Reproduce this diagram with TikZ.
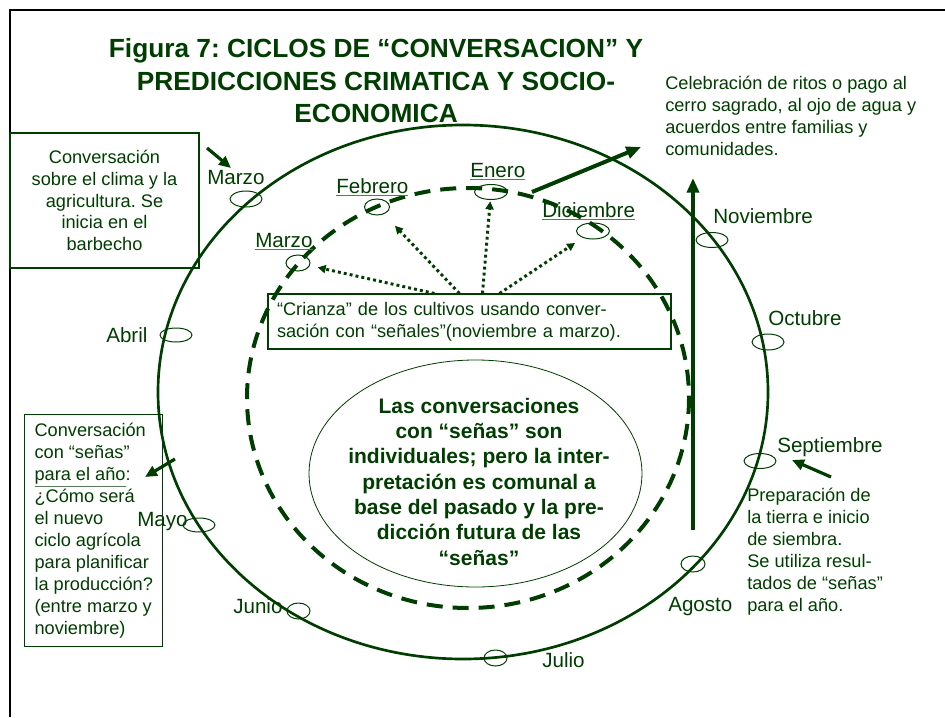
\documentclass[tikz,border=0pt]{standalone}
\usepackage{fontspec}
\setmainfont{Liberation Sans}
\usetikzlibrary{arrows.meta,shapes.geometric,calc}
\definecolor{dg}{RGB}{0,61,0}
\definecolor{ulc}{RGB}{90,120,90}
\newcommand{\myul}[1]{{\color{ulc}\underline{\color{dg}#1}}}
\frenchspacing
\begin{document}
\begin{tikzpicture}[x=0.75pt,y=-0.75pt,
  mk/.style 2 args={ellipse,draw=dg,line width=0.75pt,inner sep=0pt,minimum width=#1*1.5pt,minimum height=#2*1.5pt},
  mon/.style={font=\fontsize{15.45pt}{18pt}\selectfont,text=dg,inner sep=0pt,anchor=base west},
  body/.style={font=\fontsize{13.65pt}{16.4pt}\selectfont,text=dg},
  boxed/.style={draw=dg,line width=0.8pt},
  thk/.style={draw=dg,line width=3pt,-{Triangle[length=11pt,width=9pt]}},
  thn/.style={draw=dg,line width=2.4pt,-{Triangle[length=9pt,width=8pt]}},
  dots/.style={draw=dg,line width=2.2pt,dash pattern=on 2.2pt off 2.3pt,-{Triangle[length=6pt,width=6pt]}}]
\useasboundingbox (0,0) rectangle (945,717);
% frame
\draw[black,line width=2.2pt] (10,717) -- (10,10) -- (945,10);
% title (anchor on last line's baseline)
\node[font=\fontsize{19.7pt}{24pt}\selectfont\bfseries,text=dg,align=center,anchor=base,inner sep=0pt] (title) at (376,122)
  {Figura 7: CICLOS DE “CONVERSACION” Y\\PREDICCIONES CRIMATICA Y SOCIO-\\ECONOMICA};
% ellipses
\draw[dg,line width=2pt] (463,392) ellipse [x radius=305,y radius=267];
\draw[dg,line width=3pt,dash pattern=on 12pt off 7.5pt] (468,398) ellipse [x radius=221,y radius=210];
\node[ellipse,draw=dg,line width=0.6pt,minimum width=249.75pt,minimum height=170.25pt,inner sep=0pt] (inner) at (475.5,473.5) {};
\node[font=\fontsize{15.75pt}{19pt}\selectfont\bfseries,text=dg,align=center,anchor=base,inner sep=0pt] (ctr) at (479,565)
  {Las conversaciones\\con “señas” son\\individuales; pero la inter-\\pretación es comunal a\\base del pasado y la pre-\\dicción futura de las\\“señas”};
% month markers
\node[mk={16}{8}] (mMarO) at (246,199) {};
\node[mk={12}{8}] (mMarI) at (298,263) {};
\node[mk={12.5}{8}] (mFeb) at (377,207) {};
\node[mk={16.5}{7.5}] (mEne) at (491,192) {};
\node[mk={16.5}{8}] (mDic) at (593,231) {};
\node[mk={16}{7.5}] (mNov) at (712,240) {};
\node[mk={16}{8}] (mOct) at (768,342) {};
\node[mk={16}{7}] (mAbr) at (176,335) {};
\node[mk={16}{7.5}] (mSep) at (760,461) {};
\node[mk={12}{8}] (mAgo) at (693,564) {};
\node[mk={11.5}{8}] (mJul) at (495.5,658) {};
\node[mk={11.5}{8}] (mJun) at (298.5,611) {};
\node[mk={16}{7}] (mMay) at (199,525) {};
% month labels
\node[mon] (lMarO) at (207,184) {Marzo};
\node[mon] (lMarI) at (255,247) {\myul{Marzo}};
\node[mon] (lFeb) at (336,193) {\myul{Febrero}};
\node[mon] (lEne) at (470,177) {\myul{Enero}};
\node[mon] (lDic) at (542,217) {\myul{Diciembre}};
\node[mon] (lNov) at (713,223) {Noviembre};
\node[mon] (lOct) at (768,325) {Octubre};
\node[mon] (lAbr) at (106,342) {Abril};
\node[mon] (lSep) at (777,452) {Septiembre};
\node[mon] (lAgo) at (668,611) {Agosto};
\node[mon] (lJul) at (542,667) {Julio};
\node[mon] (lJun) at (233,613) {Junio};
\node[mon] (lMay) at (137,526) {Mayo};
% boxes
\node[boxed,body,minimum width=141.75pt,minimum height=101.25pt,align=center] (b1) at (104.5,200.5)
  {Conversación\\sobre el clima y la\\agricultura. Se\\inicia en el\\barbecho};
\node[boxed,font=\fontsize{13.65pt}{16.5pt}\selectfont,text=dg,anchor=north west,minimum height=174pt,inner xsep=7.5pt,align=left] (b2) at (24,414)
  {Conversación\\con “señas”\\\myul{para el año}:\\¿Cómo será\\el nuevo\\ciclo agrícola\\para planificar\\la producción?\\(entre marzo y\\noviembre)};
\node[boxed,body,minimum width=302.25pt,minimum height=41.25pt,text width=288.75pt,align=left] (crz) at (469.5,321.5)
  {“Crianza” de los cultivos usando conver-\\sación con “señales”(noviembre a marzo).};
% free texts (anchor on last line's baseline)
\node[body,align=left,anchor=base west,inner sep=0pt] (cel) at (665,155)
  {Celebración de ritos o pago al\\cerro sagrado, al ojo de agua y\\acuerdos entre familias y\\comunidades.};
\node[font=\fontsize{13.65pt}{16.5pt}\selectfont,text=dg,align=left,anchor=base west,inner sep=0pt] (prep) at (747,611)
  {Preparación de\\la tierra e inicio\\de siembra.\\Se utiliza resul-\\tados de “señas”\\para el año.};
% arrows
\coordinate (a1s) at (207,148); \coordinate (a1e) at (231,168);
\coordinate (a2s) at (532,192); \coordinate (a2e) at (641,147);
\coordinate (a3s) at (693,530); \coordinate (a3e) at (693,178);
\coordinate (a4s) at (831,477); \coordinate (a4e) at (792,460);
\coordinate (a5s) at (175,459); \coordinate (a5e) at (145,477);
\draw[thn] (a1s) -- (a1e);
\draw[thk] (a2s) -- (a2e);
\draw[thk] (a3s) -- (a3e);
\draw[thn] (a4s) -- (a4e);
\draw[thn] (a5s) -- (a5e);
% dotted arrows
\draw[dots,shorten >=6pt] ($(crz.north west)+(167,0)$) -- (mMarI);
\draw[dots,shorten >=12pt] ($(crz.north west)+(192,0)$) -- (mFeb);
\draw[dots,shorten >=1pt] ($(crz.north west)+(215,0)$) -- (mEne);
\draw[dots,shorten >=7pt] ($(crz.north west)+(232,0)$) -- (mDic);
\end{tikzpicture}
\end{document}
